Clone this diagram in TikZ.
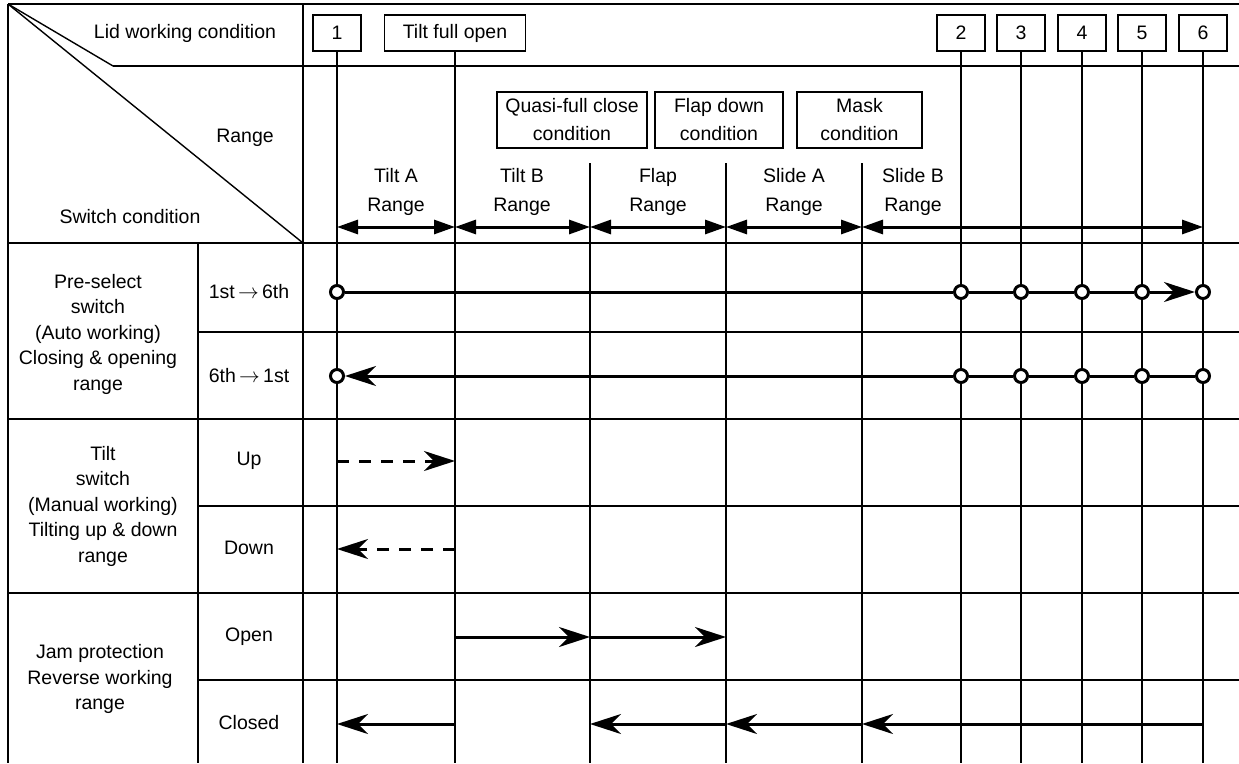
\documentclass[tikz,border=0pt]{standalone}
\usepackage{fontspec}
\setmainfont{Liberation Sans}
\usetikzlibrary{arrows.meta}
\begin{document}
\begin{tikzpicture}[x=1pt,y=-1pt,
  grid/.style={line width=1.4pt},
  lbl/.style={font=\fontsize{19.5}{25.5}\selectfont, align=center, inner sep=0pt},
  rlbl/.style={font=\fontsize{19.5}{28.5}\selectfont, align=center, inner sep=0pt},
  numbox/.style={draw, line width=1.3pt, minimum width=48pt, minimum height=36pt, inner sep=0pt, font=\fontsize{19.5}{25.5}\selectfont},
  condbox/.style={draw, line width=1.3pt, minimum height=56pt, inner sep=0pt, align=center, font=\fontsize{19.5}{28}\selectfont},
  rng/.style={line width=3pt, {Triangle[length=21pt,width=14pt]}-{Triangle[length=21pt,width=14pt]}},
  rowline/.style={line width=3pt},
  flow/.style={line width=3pt, -{Stealth[length=31pt,width=20pt,inset=10pt]}},
  dashflow/.style={flow, dash pattern=on 12pt off 10pt},
  circ/.style={circle, draw, fill=white, line width=3pt, minimum size=13pt, inner sep=0pt},
]
\useasboundingbox (0,0) rectangle (1239,763);

% helper levels
\coordinate (ybot) at (0,763);
\coordinate (yrng) at (0,227);
\coordinate (ypre) at (0,292);
\coordinate (ypost) at (0,376);
\coordinate (yup) at (0,461);
\coordinate (ydn) at (0,549);
\coordinate (yopen) at (0,637);
\coordinate (ycl) at (0,724);

% table frame
\draw[grid] (8,4) -- (1239,4);
\draw[grid] (8,4) -- (8,763);
\draw[grid] (303,4) -- (303,763);
\draw[grid] (198,243) -- (198,763);
\draw[grid] (113,66) -- (1239,66);
\draw[grid] (8,243) -- (1239,243);
\draw[grid] (198,332) -- (1239,332);
\draw[grid] (8,419) -- (1239,419);
\draw[grid] (198,506) -- (1239,506);
\draw[grid] (8,593) -- (1239,593);
\draw[grid] (198,680) -- (1239,680);
\draw[grid] (8,4) -- (113,66);
\draw[grid] (8,4) -- (303,243);

% header texts
\node[lbl] (lid) at (185,33) {Lid working condition};
\node[lbl] (rangehd) at (245,138) {Range};
\node[lbl] (swc) at (130,217) {Switch condition};

% lid condition boxes
\node[numbox] (b1) at (337,33) {1};
\node[numbox, minimum width=141pt] (bt) at (455,33) {Tilt full open};
\node[numbox] (b2) at (961,33) {2};
\node[numbox] (b3) at (1021,33) {3};
\node[numbox] (b4) at (1082,33) {4};
\node[numbox] (b5) at (1142,33) {5};
\node[numbox] (b6) at (1203,33) {6};

% condition boxes
\node[condbox, minimum width=150pt] (quasi) at (572,120) {Quasi-full close\\condition};
\node[condbox, minimum width=128pt] (flapd) at (719,120) {Flap down\\condition};
\node[condbox, minimum width=125pt] (mask) at (859.5,120) {Mask\\condition};

% range dividers
\coordinate (d1) at (590,163);
\coordinate (d2) at (726,163);
\coordinate (d3) at (862,163);

% vertical lines
\foreach \b in {b1,bt,b2,b3,b4,b5,b6} {
  \draw[grid] (\b.south) -- (\b.south |- ybot);
}
\foreach \d in {d1,d2,d3} {
  \draw[grid] (\d) -- (\d |- ybot);
}

% range labels
\node[rlbl] (tA) at (396,192) {Tilt A\\Range};
\node[rlbl] (tB) at (522,192) {Tilt B\\Range};
\node[rlbl] (fl) at (658,192) {Flap\\Range};
\node[rlbl] (sA) at (794,192) {Slide A\\Range};
\node[rlbl] (sB) at (913,192) {Slide B\\Range};

% range arrows
\draw[rng] (b1 |- yrng) -- (bt |- yrng);
\draw[rng] (bt |- yrng) -- (d1 |- yrng);
\draw[rng] (d1 |- yrng) -- (d2 |- yrng);
\draw[rng] (d2 |- yrng) -- (d3 |- yrng);
\draw[rng] (d3 |- yrng) -- (b6 |- yrng);

% left column texts
\node[lbl] (pre) at (98,334) {Pre-select\\switch\\(Auto working)\\Closing \& opening\\range};
\node[lbl] (tilt) at (103,506) {Tilt\\switch\\(Manual working)\\Tilting up \& down\\range};
\node[lbl] (jam) at (100,679) {Jam protection\\Reverse working\\range};

\node[lbl] (s16) at (249,292) {1st\,$\rightarrow$\,6th};
\node[lbl] (s61) at (249,376) {6th\,$\rightarrow$\,1st};
\node[lbl] (sup) at (249,461) {Up};
\node[lbl] (sdn) at (249,548) {Down};
\node[lbl] (sop) at (249,637) {Open};
\node[lbl] (scl) at (249,723) {Closed};

% pre-select circles
\node[circ] (p1) at (b1 |- ypre) {};
\node[circ] (p2) at (b2 |- ypre) {};
\node[circ] (p3) at (b3 |- ypre) {};
\node[circ] (p4) at (b4 |- ypre) {};
\node[circ] (p5) at (b5 |- ypre) {};
\node[circ] (p6) at (b6 |- ypre) {};
\node[circ] (q1) at (b1 |- ypost) {};
\node[circ] (q2) at (b2 |- ypost) {};
\node[circ] (q3) at (b3 |- ypost) {};
\node[circ] (q4) at (b4 |- ypost) {};
\node[circ] (q5) at (b5 |- ypost) {};
\node[circ] (q6) at (b6 |- ypost) {};

\draw[rowline] (p1) -- (p2);
\draw[rowline] (p2) -- (p3);
\draw[rowline] (p3) -- (p4);
\draw[rowline] (p4) -- (p5);
\draw[flow] (p5) -- (p6);

\draw[flow] (q2) -- (q1);
\draw[rowline] (q2) -- (q3);
\draw[rowline] (q3) -- (q4);
\draw[rowline] (q4) -- (q5);
\draw[rowline] (q5) -- (q6);

% tilt switch
\draw[dashflow] (b1 |- yup) -- (bt |- yup);
\draw[dashflow] (bt |- ydn) -- (b1 |- ydn);

% jam protection
\draw[flow] (bt |- yopen) -- (d1 |- yopen);
\draw[flow] (d1 |- yopen) -- (d2 |- yopen);
\draw[flow] (bt |- ycl) -- (b1 |- ycl);
\draw[flow] (d2 |- ycl) -- (d1 |- ycl);
\draw[flow] (d3 |- ycl) -- (d2 |- ycl);
\draw[flow] (b6 |- ycl) -- (d3 |- ycl);
\end{tikzpicture}
\end{document}
